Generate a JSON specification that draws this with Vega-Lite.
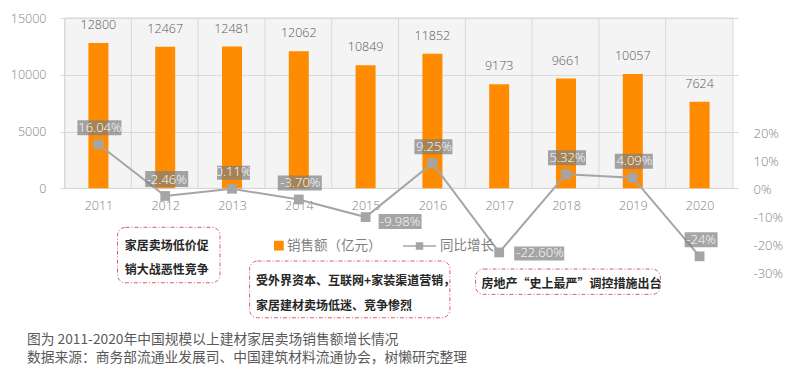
{
  "$schema": "https://vega.github.io/schema/vega-lite/v6.json",
  "width": 678,
  "height": 312,
  "autosize": {"type": "none"},
  "padding": {"left": 60, "top": 18, "right": 62, "bottom": 43},
  "background": "#ffffff",
  "title": {
    "text": ["图为 2011-2020年中国规模以上建材家居卖场销售额增长情况", "数据来源：商务部流通业发展司、中国建筑材料流通协会，树懒研究整理"],
    "orient": "bottom", "anchor": "start", "frame": "group", "offset": 3, "dx": -33,
    "font": "Noto Sans CJK SC", "fontSize": 13.75, "fontWeight": "normal", "color": "#595959", "lineHeight": 18
  },
  "data": {"values": [
    {"year": 2011, "sales": 12800, "growth": 0.1604, "label": "16.04%"},
    {"year": 2012, "sales": 12467, "growth": -0.0246, "label": "-2.46%"},
    {"year": 2013, "sales": 12481, "growth": 0.0011, "label": "0.11%"},
    {"year": 2014, "sales": 12062, "growth": -0.0370, "label": "-3.70%"},
    {"year": 2015, "sales": 10849, "growth": -0.0998, "label": "-9.98%"},
    {"year": 2016, "sales": 11852, "growth": 0.0925, "label": "9.25%"},
    {"year": 2017, "sales": 9173, "growth": -0.2260, "label": "-22.60%"},
    {"year": 2018, "sales": 9661, "growth": 0.0532, "label": "5.32%"},
    {"year": 2019, "sales": 10057, "growth": 0.0409, "label": "4.09%"},
    {"year": 2020, "sales": 7624, "growth": -0.2400, "label": "-24%"}
  ]},
  "encoding": {
    "x": {
      "field": "year", "type": "quantitative",
      "scale": {"domain": [2010.5, 2020.5], "nice": false, "zero": false},
      "axis": {"values": [2011, 2012, 2013, 2014, 2015, 2016, 2017, 2018, 2019, 2020], "format": "d", "title": null,
        "offset": -141.7, "domain": false, "ticks": false, "grid": false, "labelPadding": 11,
        "labelFontSize": 12.5, "labelColor": "#7f7f7f", "labelFont": "Open Sans", "labelFontWeight": 300, "labelFlush": false}
    }
  },
  "layer": [
    {"layer": [
      {"transform": [{"filter": {"field": "year", "equal": 2011}}],
       "mark": {"type": "rect", "fill": "#d9d9d9", "fillOpacity": 0.3, "stroke": "#d9d9d9", "strokeWidth": 1},
       "encoding": {
         "x": {"datum": 2010.5, "type": "quantitative"},
         "x2": {"datum": 2020.5},
         "y": {"datum": 0, "type": "quantitative", "scale": {"domain": [-12480, 15000], "nice": false, "zero": false}},
         "y2": {"datum": 15000}
       }},
      {"mark": {"type": "rule", "xOffset": -33.9, "color": "#d9d9d9", "strokeWidth": 1},
       "encoding": {
         "y": {"datum": 0, "type": "quantitative", "scale": {"domain": [-12480, 15000], "nice": false, "zero": false}},
         "y2": {"datum": 15000}
       }},
      {"mark": {"type": "bar", "size": 20},
       "encoding": {
         "y": {"field": "sales", "type": "quantitative", "scale": {"domain": [-12480, 15000], "nice": false, "zero": false},
           "axis": {"orient": "left", "values": [0, 5000, 10000, 15000], "format": "d", "title": null, "domain": false, "ticks": false,
             "grid": true, "gridColor": "#d9d9d9", "gridWidth": 1, "labelPadding": 14, "labelFontSize": 12.5,
             "labelColor": "#7f7f7f", "labelFont": "Open Sans", "labelFontWeight": 300}},
         "color": {"datum": "销售额（亿元）",
           "scale": {"domain": ["销售额（亿元）", "同比增长"], "range": ["#ff8c00", "#a5a5a5"]},
           "legend": {"orient": "none", "legendX": 189, "legendY": 210, "direction": "horizontal", "title": null,
             "symbolSize": 1089, "labelOffset": 3, "columnPadding": 18, "padding": 0,
             "labelFont": "Noto Sans CJK SC", "labelFontSize": 13.5, "labelColor": "#7f7f7f", "symbolStrokeWidth": 1.5,
             "encode": {"symbols": {"update": {
               "shape": {"signal": "datum.value === '同比增长' ? 'M-1,0H1M-0.18,-0.18H0.18V0.18H-0.18Z' : 'M0.5,-0.25H1V0.25H0.5Z'"},
               "fill": {"signal": "datum.value === '同比增长' ? '#a5a5a5' : '#ff8c00'"},
               "stroke": {"signal": "datum.value === '同比增长' ? '#a5a5a5' : null"},
               "opacity": {"value": 1}
             }}}}}
       }},
      {"mark": {"type": "text", "dy": -18, "baseline": "middle", "align": "center", "font": "Open Sans", "fontWeight": 300, "fontSize": 12.5, "color": "#595959"},
       "encoding": {
         "y": {"field": "sales", "type": "quantitative", "scale": {"domain": [-12480, 15000], "nice": false, "zero": false}},
         "text": {"field": "sales", "type": "quantitative", "format": "d"}
       }}
    ]},
    {"layer": [
      {"mark": {"type": "line", "strokeWidth": 2},
       "encoding": {
         "y": {"field": "growth", "type": "quantitative", "scale": {"domain": [-0.503, 0.611], "nice": false, "zero": false},
           "axis": {"orient": "right", "values": [0.2, 0.1, 0, -0.1, -0.2, -0.3], "format": ".0%", "labelExpr": "replace(datum.label, '−', '-')",
             "title": null, "domain": false, "ticks": false, "grid": false, "labelPadding": 15, "labelFontSize": 13,
             "labelColor": "#7f7f7f", "labelFont": "Open Sans", "labelFontWeight": 300}},
         "color": {"datum": "同比增长"}
       }},
      {"mark": {"type": "point", "filled": true, "size": 4, "fill": "#7f7f7f", "opacity": 0.7, "strokeWidth": 0},
       "encoding": {
         "y": {"field": "growth", "type": "quantitative", "scale": {"domain": [-0.503, 0.611], "nice": false, "zero": false}},
         "shape": {"field": "label", "type": "nominal", "legend": null,
           "scale": {"domain": ["16.04%", "-2.46%", "0.11%", "-3.70%", "-9.98%", "9.25%", "-22.60%", "5.32%", "4.09%", "-24%"],
             "range": ["M-21,-24H23V-9H-21Z", "M-20,-25H23V-9H-20Z", "M-15,-23H18V-9H-15Z", "M-21,-24H23V-9H-21Z", "M13,-3H56V12H13Z",
               "M-18,-24H20V-9H-18Z", "M15,-6H65V8H15Z", "M-18,-24H20V-9H-18Z", "M-18,-24H20V-9H-18Z", "M-15,-24H18V-9H-15Z"]}}
       }},
      {"mark": {"type": "point", "shape": "square", "filled": true, "size": 95, "fill": "#a5a5a5", "opacity": 1, "strokeWidth": 0},
       "encoding": {
         "y": {"field": "growth", "type": "quantitative", "scale": {"domain": [-0.503, 0.611], "nice": false, "zero": false}}
       }},
      {"transform": [{"filter": {"not": {"field": "year", "oneOf": [2015, 2017]}}}],
       "mark": {"type": "text", "dx": 1.5, "dy": -16.5, "align": "center", "baseline": "middle", "color": "#ffffff", "fontSize": 13, "font": "Open Sans", "fontWeight": 300},
       "encoding": {
         "y": {"field": "growth", "type": "quantitative", "scale": {"domain": [-0.503, 0.611], "nice": false, "zero": false}},
         "text": {"field": "label", "type": "nominal"}
       }},
      {"transform": [{"filter": {"field": "year", "equal": 2015}}],
       "mark": {"type": "text", "dx": 14.5, "dy": 4.5, "align": "left", "baseline": "middle", "color": "#ffffff", "fontSize": 13, "font": "Open Sans", "fontWeight": 300},
       "encoding": {
         "y": {"field": "growth", "type": "quantitative", "scale": {"domain": [-0.503, 0.611], "nice": false, "zero": false}},
         "text": {"field": "label", "type": "nominal"}
       }},
      {"transform": [{"filter": {"field": "year", "equal": 2017}}],
       "mark": {"type": "text", "dx": 17, "dy": 0.6, "align": "left", "baseline": "middle", "color": "#ffffff", "fontSize": 13, "font": "Open Sans", "fontWeight": 300},
       "encoding": {
         "y": {"field": "growth", "type": "quantitative", "scale": {"domain": [-0.503, 0.611], "nice": false, "zero": false}},
         "text": {"field": "label", "type": "nominal"}
       }},
      {"transform": [{"filter": {"field": "year", "equal": 2011}}],
       "mark": {"type": "rect", "fill": "#ffffff", "stroke": "#e05a6e", "strokeWidth": 1, "strokeDash": [4, 2, 1, 2], "cornerRadius": 8},
       "encoding": {
         "x": {"datum": 2011.286, "type": "quantitative"}, "x2": {"datum": 2012.82},
         "y": {"datum": -0.1364, "type": "quantitative", "scale": {"domain": [-0.503, 0.611], "nice": false, "zero": false}},
         "y2": {"datum": -0.3343}
       }},
      {"transform": [{"filter": {"field": "year", "equal": 2011}}],
       "mark": {"type": "text", "align": "left", "baseline": "middle", "font": "Noto Sans CJK SC", "fontSize": 12, "fontWeight": "bold", "color": "#262626"},
       "encoding": {
         "x": {"datum": 2011.395, "type": "quantitative"},
         "y": {"datum": -0.2021, "type": "quantitative", "scale": {"domain": [-0.503, 0.611], "nice": false, "zero": false}},
         "text": {"value": "家居卖场低价促"}
       }},
      {"transform": [{"filter": {"field": "year", "equal": 2011}}],
       "mark": {"type": "text", "align": "left", "baseline": "middle", "font": "Noto Sans CJK SC", "fontSize": 12, "fontWeight": "bold", "color": "#262626"},
       "encoding": {
         "x": {"datum": 2011.395, "type": "quantitative"},
         "y": {"datum": -0.2889, "type": "quantitative", "scale": {"domain": [-0.503, 0.611], "nice": false, "zero": false}},
         "text": {"value": "销大战恶性竞争"}
       }},
      {"transform": [{"filter": {"field": "year", "equal": 2011}}],
       "mark": {"type": "rect", "fill": "#ffffff", "stroke": "#e05a6e", "strokeWidth": 1, "strokeDash": [4, 2, 1, 2], "cornerRadius": 8},
       "encoding": {
         "x": {"datum": 2013.263, "type": "quantitative"}, "x2": {"datum": 2016.262},
         "y": {"datum": -0.2568, "type": "quantitative", "scale": {"domain": [-0.503, 0.611], "nice": false, "zero": false}},
         "y2": {"datum": -0.4593}
       }},
      {"transform": [{"filter": {"field": "year", "equal": 2011}}],
       "mark": {"type": "text", "align": "left", "baseline": "middle", "font": "Noto Sans CJK SC", "fontSize": 12, "fontWeight": "bold", "color": "#262626"},
       "encoding": {
         "x": {"datum": 2013.361, "type": "quantitative"},
         "y": {"datum": -0.3282, "type": "quantitative", "scale": {"domain": [-0.503, 0.611], "nice": false, "zero": false}},
         "text": {"value": "受外界资本、互联网+家装渠道营销，"}
       }},
      {"transform": [{"filter": {"field": "year", "equal": 2011}}],
       "mark": {"type": "text", "align": "left", "baseline": "middle", "font": "Noto Sans CJK SC", "fontSize": 12, "fontWeight": "bold", "color": "#262626"},
       "encoding": {
         "x": {"datum": 2013.361, "type": "quantitative"},
         "y": {"datum": -0.4164, "type": "quantitative", "scale": {"domain": [-0.503, 0.611], "nice": false, "zero": false}},
         "text": {"value": "家居建材卖场低迷、竞争惨烈"}
       }},
      {"transform": [{"filter": {"field": "year", "equal": 2011}}],
       "mark": {"type": "rect", "fill": "#ffffff", "stroke": "#e05a6e", "strokeWidth": 1, "strokeDash": [4, 2, 1, 2], "cornerRadius": 8},
       "encoding": {
         "x": {"datum": 2016.646, "type": "quantitative"}, "x2": {"datum": 2019.413},
         "y": {"datum": -0.2854, "type": "quantitative", "scale": {"domain": [-0.503, 0.611], "nice": false, "zero": false}},
         "y2": {"datum": -0.3757}
       }},
      {"transform": [{"filter": {"field": "year", "equal": 2011}}],
       "mark": {"type": "text", "align": "left", "baseline": "middle", "font": "Noto Sans CJK SC", "fontSize": 12, "fontWeight": "bold", "color": "#262626"},
       "encoding": {
         "x": {"datum": 2016.734, "type": "quantitative"},
         "y": {"datum": -0.34, "type": "quantitative", "scale": {"domain": [-0.503, 0.611], "nice": false, "zero": false}},
         "text": {"value": "房地产“史上最严”调控措施出台"}
       }}
    ]}
  ],
  "resolve": {"scale": {"y": "independent"}},
  "config": {"view": {"stroke": null}, "font": "Open Sans"}
}
